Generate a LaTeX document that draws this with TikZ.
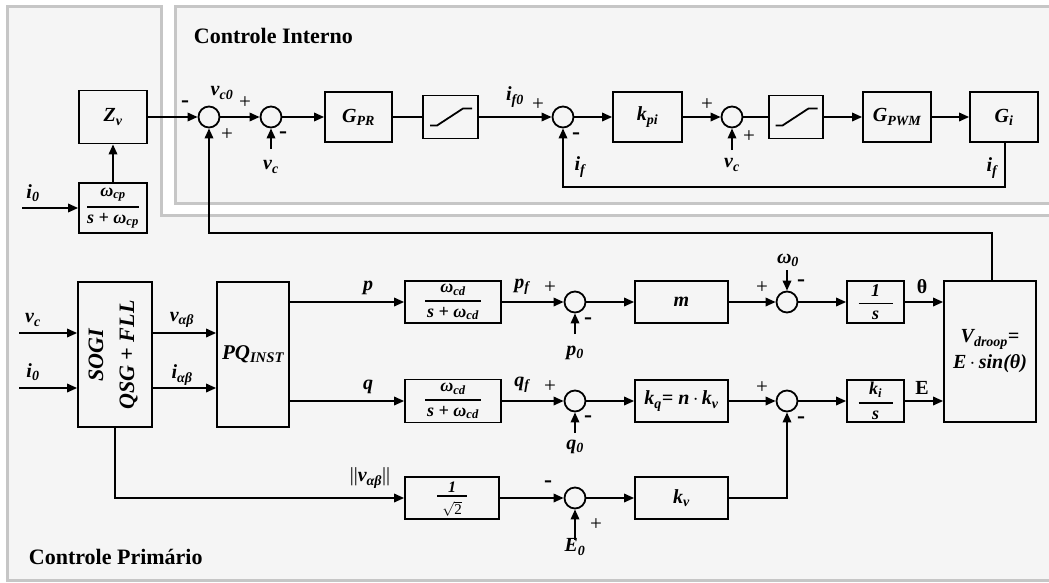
\documentclass[tikz,border=0pt]{standalone}
\usepackage{fontspec}
\setmainfont{Liberation Serif}
\usepackage{amsmath}
\usetikzlibrary{arrows.meta}
\definecolor{panelfill}{HTML}{F5F5F5}
\definecolor{panelline}{HTML}{C6C6C6}
\newcommand\sbs[1]{\textsubscript{#1}}
\newcommand\frc[3]{$\genfrac{}{}{1.6pt}{0}{\makebox[#1]{#2}}{\makebox[#1]{#3}}$}
\begin{document}
\begin{tikzpicture}[x=1pt,y=-1pt,line width=1.8pt,
  >={Triangle[length=10pt,width=8.5pt]},
  lbl/.style={font=\fontsize{20}{24}\selectfont\bfseries\itshape,inner sep=0pt},
  ulbl/.style={font=\fontsize{20}{24}\selectfont\bfseries,inner sep=0pt},
  ttl/.style={font=\fontsize{22}{24}\selectfont\bfseries,inner sep=0pt,anchor=west},
  pls/.style={font=\fontsize{21}{24}\selectfont,inner sep=0pt},
  mns/.style={font=\fontsize{24}{24}\selectfont\bfseries,inner sep=0pt},
  blk/.style 2 args={draw,rectangle,minimum width=#1pt,minimum height=#2pt,inner sep=0pt,font=\fontsize{20}{26}\selectfont\bfseries\itshape},
  frbox/.style 2 args={blk={#1}{#2},font=\fontsize{18}{20}\selectfont\bfseries\itshape},
  sum/.style={draw,circle,minimum size=21pt,inner sep=0pt},
]
\useasboundingbox (0,0) rectangle (1049,582);
\clip (0,0) rectangle (1049,582);
\fill[white] (0,0) rectangle (1049,582);
\draw[panelline,fill=panelfill,line width=3pt] (7.5,6.5) -- (161.5,6.5) -- (161.5,215) -- (1060,215) -- (1060,580.5) -- (7.5,580.5) -- cycle;
\draw[panelline,fill=panelfill,line width=3pt] (175,6.5) rectangle (1060,203.5);

\node[ttl] (tin) at (193,36) {Controle Interno};
\node[ttl] (tpr) at (28,557) {Controle Primário};

% ---------- inner loop ----------
\node[blk={68}{53}] (Zv) at (113,117) {Z\sbs{v}};
\node[frbox={68}{50}] (Wcp) at (113,208) {\frc{52pt}{ω\sbs{cp}}{s + ω\sbs{cp}}};
\node[sum] (S1) at (209,117) {};
\node[sum] (S2) at (271,117) {};
\node[blk={67}{50}] (GPR) at (358.5,117) {G\sbs{PR}};
\node[blk={55}{43}] (sat1) at (450.5,117) {};
\node[sum] (S3) at (563,117) {};
\node[blk={69}{50}] (kpi) at (647.5,117) {k\sbs{pi}};
\node[sum] (S4) at (732,117) {};
\node[blk={54}{43}] (sat2) at (796,117) {};
\node[blk={68}{50}] (GPWM) at (897,117) {G\sbs{PWM}};
\node[blk={68}{50}] (Gi) at (1004,117) {G\sbs{i}};

\coordinate (i0a) at (22,208);
\coordinate (vc1) at (271,149);
\coordinate (vc2) at (732,150);
\coordinate (fbi) at (1005,187);
\coordinate (fbt) at (992,233);

\draw (sat1.center) ++(-20.5,8.5) -- ++(7,0) -- ++(26,-17) -- ++(9,0);
\draw (sat2.center) ++(-20.5,8.5) -- ++(7,0) -- ++(26,-17) -- ++(9,0);

\draw[->] (i0a) -- (Wcp.west);
\draw[->] (Wcp.north) -- (Zv.south);
\draw[->] (Zv.east) -- (S1.west);
\draw[->] (S1.east) -- (S2.west);
\draw[->] (vc1) -- (S2.south);
\draw[->] (S2.east) -- (GPR.west);
\draw (GPR.east) -- (sat1.west);
\draw[->] (sat1.east) -- (S3.west);
\draw[->] (S3.east) -- (kpi.west);
\draw[->] (kpi.east) -- (S4.west);
\draw[->] (vc2) -- (S4.south);
\draw (S4.east) -- (sat2.west);
\draw[->] (sat2.east) -- (GPWM.west);
\draw[->] (GPWM.east) -- (Gi.west);
\draw[->] (Gi.south -| fbi) -- (fbi) -| (S3.south);

\node[mns] (m1) at (185,104) {-};
\node[lbl] (lvc0) at (222,93) {v\sbs{c0}};
\node[pls] (p1) at (245,103) {+};
\node[pls] (p2) at (227,135) {+};
\node[mns] (m2) at (283,135) {-};
\node[lbl] (lvc1) at (271,167) {v\sbs{c}};
\node[lbl] (lif0) at (515,97) {i\sbs{f0}};
\node[pls] (p3) at (538,105) {+};
\node[mns] (m3) at (576,136) {-};
\node[lbl] (lif1) at (580,167) {i\sbs{f}};
\node[pls] (p4) at (707,105) {+};
\node[pls] (p5) at (749,137) {+};
\node[lbl] (lvc2) at (732,165) {v\sbs{c}};
\node[lbl] (lif2) at (992,168) {i\sbs{f}};
\node[lbl] (li0a) at (33,193) {i\sbs{0}};

% ---------- primary control ----------
\node[blk={74}{145}] (SOGI) at (115,354.5) {};
\node[lbl,rotate=90,align=center,font=\fontsize{22}{31}\selectfont\bfseries\itshape] (sogit) at (113,355) {SOGI\\QSG + FLL};
\node[blk={72}{145},font=\fontsize{21}{24}\selectfont\bfseries\itshape] (PQ) at (253,354.5) {PQ\sbs{INST}};
\node[frbox={96}{42}] (LPF1) at (453,302) {\frc{56pt}{ω\sbs{cd}}{s + ω\sbs{cd}}};
\node[frbox={96}{43}] (LPF2) at (453,401) {\frc{56pt}{ω\sbs{cd}}{s + ω\sbs{cd}}};
\node[blk={94}{42}] (SQ) at (452,498) {};
\node[lbl,font=\fontsize{16}{18}\selectfont\bfseries\itshape] (SQn) at (452,487) {1};
\node[inner sep=0pt,font=\fontsize{15}{18}\selectfont] (SQd) at (452,509) {$\sqrt{\mbox{2}}$};
\draw[line width=1.6pt] (437,496) -- (467,496);
\node[sum] (S5) at (575,302) {};
\node[sum] (S6) at (575,401) {};
\node[sum] (S7) at (575,498) {};
\node[blk={93}{42}] (m) at (681.5,302) {m};
\node[blk={93}{42}] (kq) at (681.5,401) {k\sbs{q}= n\,$\cdot$\,k\sbs{v}};
\node[blk={93}{42}] (kv) at (681.5,498) {k\sbs{v}};
\node[sum] (S8) at (787,302) {};
\node[sum] (S9) at (787,401) {};
\node[frbox={57}{42}] (I1) at (875.5,302) {\frc{34pt}{1}{s}};
\node[frbox={57}{42}] (I2) at (875.5,401) {\frc{34pt}{k\sbs{i}}{s}};
\node[blk={92}{141},align=center] (droop) at (990,351.5) {V\sbs{droop}=\\E\,$\cdot$\,sin(θ)};

\coordinate (vcin) at (19,333);
\coordinate (i0in) at (19,388);
\coordinate (p0in) at (575,334);
\coordinate (q0in) at (575,433);
\coordinate (E0in) at (575,540);
\coordinate (w0in) at (787,270);

\draw[->] (droop.north -| fbt) -- (fbt) -| (S1.south);
\draw[->] (vcin) -- (SOGI.west |- vcin);
\draw[->] (i0in) -- (SOGI.west |- i0in);
\draw[->] (SOGI.east |- vcin) -- (PQ.west |- vcin);
\draw[->] (SOGI.east |- i0in) -- (PQ.west |- i0in);
\draw[->] (PQ.east |- LPF1) -- (LPF1.west);
\draw[->] (PQ.east |- LPF2) -- (LPF2.west);
\draw[->] (SOGI.south) |- (SQ.west);
\draw[->] (LPF1.east) -- (S5.west);
\draw[->] (p0in) -- (S5.south);
\draw[->] (S5.east) -- (m.west);
\draw[->] (LPF2.east) -- (S6.west);
\draw[->] (q0in) -- (S6.south);
\draw[->] (S6.east) -- (kq.west);
\draw[->] (SQ.east) -- (S7.west);
\draw[->] (E0in) -- (S7.south);
\draw[->] (S7.east) -- (kv.west);
\draw[->] (m.east) -- (S8.west);
\draw[->] (w0in) -- (S8.north);
\draw[->] (S8.east) -- (I1.west);
\draw[->] (I1.east) -- (droop.west |- I1);
\draw[->] (kq.east) -- (S9.west);
\draw[->] (kv.east) -| (S9.south);
\draw[->] (S9.east) -- (I2.west);
\draw[->] (I2.east) -- (droop.west |- I2);

\node[lbl] (lvc3) at (33,320) {v\sbs{c}};
\node[lbl] (li03) at (33,372) {i\sbs{0}};
\node[lbl] (lvab) at (182,320) {v\sbs{αβ}};
\node[lbl] (liab) at (182,375) {i\sbs{αβ}};
\node[lbl] (lp) at (368,288) {p};
\node[lbl] (lq) at (368,387) {q};
\node[lbl] (lnv) at (370,478) {{\normalfont||}v\sbs{αβ}{\normalfont||}};
\node[lbl] (lpf) at (522,287) {p\sbs{f}};
\node[pls] (p6) at (550,288) {+};
\node[mns] (m6) at (588,321) {-};
\node[lbl] (lp0) at (575,353) {p\sbs{0}};
\node[lbl] (lqf) at (522,385) {q\sbs{f}};
\node[pls] (p7) at (550,387) {+};
\node[mns] (m7) at (588,419) {-};
\node[lbl] (lq0) at (575,447) {q\sbs{0}};
\node[mns] (m8) at (548,484) {-};
\node[pls] (p8) at (596,525) {+};
\node[lbl] (lE0) at (575,547) {E\sbs{0}};
\node[pls] (p9) at (762,288) {+};
\node[lbl] (lw0) at (788,260) {ω\sbs{0}};
\node[mns] (m9) at (801,283) {-};
\node[ulbl] (lth) at (922,287) {θ};
\node[ulbl] (lE) at (922,388) {E};
\node[pls] (p10) at (762,388) {+};
\node[mns] (m10) at (801,420) {-};
\end{tikzpicture}
\end{document}
